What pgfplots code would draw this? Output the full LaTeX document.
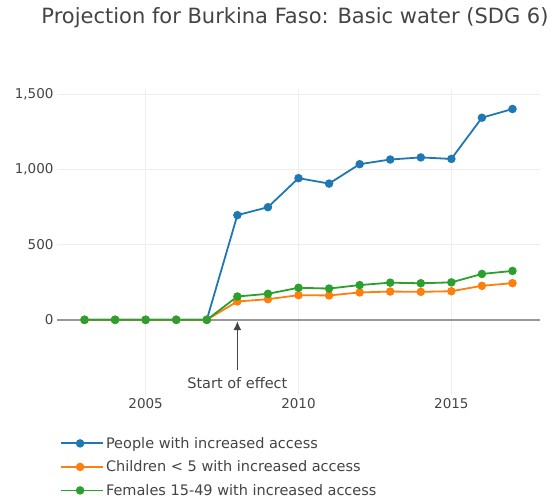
\documentclass[border=0pt]{standalone}
\usepackage{pgfplots}
\pgfplotsset{compat=1.18}
\usetikzlibrary{arrows.meta}
\usepackage{fontspec}
\setmainfont{DejaVu Sans}
\definecolor{pblue}{HTML}{1F77B4}
\definecolor{porange}{HTML}{FF7F0E}
\definecolor{pgreen}{HTML}{2CA02C}
\definecolor{txt}{HTML}{444444}
\definecolor{gridc}{HTML}{EEEEEE}
\definecolor{zeroc}{HTML}{999999}
\begin{document}
\begin{tikzpicture}
\useasboundingbox (0pt,0pt) rectangle (559pt,502pt);
\node[text=txt, font=\fontsize{21}{25}\selectfont] at (295pt,484pt) {Projection for Burkina Faso: Basic water (SDG 6)};
\begin{axis}[
  at={(57pt,107pt)}, anchor=south west,
  scale only axis, width=483pt, height=306pt,
  xmin=2002.1, xmax=2017.9, ymin=-500, ymax=1535,
  axis line style={draw=none},
  tick style={draw=none},
  xtick={2005,2010,2015},
  ytick={0,500,1000,1500},
  grid=major,
  major grid style={color=gridc, line width=0.9pt},
  xticklabel style={text=txt, font=\fontsize{13.5}{16}\selectfont},
  yticklabel style={text=txt, font=\fontsize{13.5}{16}\selectfont},
  /pgf/number format/assume math mode=true,
  x tick label style={/pgf/number format/1000 sep={}},
  y tick label style={/pgf/number format/1000 sep={,}},
  every axis plot/.append style={line width=1.8pt, mark=*, mark size=3.3pt},
  legend style={at={(0.0,-0.124)}, anchor=north west, draw=none, fill=none,
    font=\fontsize{14.5}{17}\selectfont, text=txt, row sep=7pt,
    cells={anchor=west}},
  legend image code/.code={\draw[mark repeat=2,mark phase=2,#1,line width=1.8pt] plot coordinates {(0pt,0pt) (19pt,0pt) (38pt,0pt)}; \path (0pt,0pt) -- (42pt,0pt);},
  clip=false,
]
\draw[zeroc, line width=1.6pt] (axis cs:2002.1,0) -- (axis cs:2017.9,0);
\addplot[color=pblue, mark options={fill=pblue}] coordinates {
(2003,0) (2004,0) (2005,0) (2006,0) (2007,0) (2008,696) (2009,749) (2010,942) (2011,906) (2012,1035) (2013,1066) (2014,1080) (2015,1070) (2016,1344) (2017,1402)};
\addlegendentry{People with increased access}
\addplot[color=porange, mark options={fill=porange}] coordinates {
(2003,0) (2004,0) (2005,0) (2006,0) (2007,0) (2008,122) (2009,137) (2010,164) (2011,162) (2012,182) (2013,188) (2014,186) (2015,190) (2016,226) (2017,244)};
\addlegendentry{Children < 5 with increased access}
\addplot[color=pgreen, mark options={fill=pgreen}] coordinates {
(2003,0) (2004,0) (2005,0) (2006,0) (2007,0) (2008,155) (2009,173) (2010,213) (2011,208) (2012,231) (2013,247) (2014,243) (2015,249) (2016,305) (2017,325)};
\addlegendentry{Females 15-49 with increased access}
\draw[-{Latex[length=9pt,width=8pt]}, line width=1.6pt, color=txt] (axis cs:2008,-332) -- (axis cs:2008,-8);
\node[text=txt, font=\fontsize{14.5}{17}\selectfont] at (axis cs:2008,-421) {Start of effect};
\end{axis}
\end{tikzpicture}
\end{document}
